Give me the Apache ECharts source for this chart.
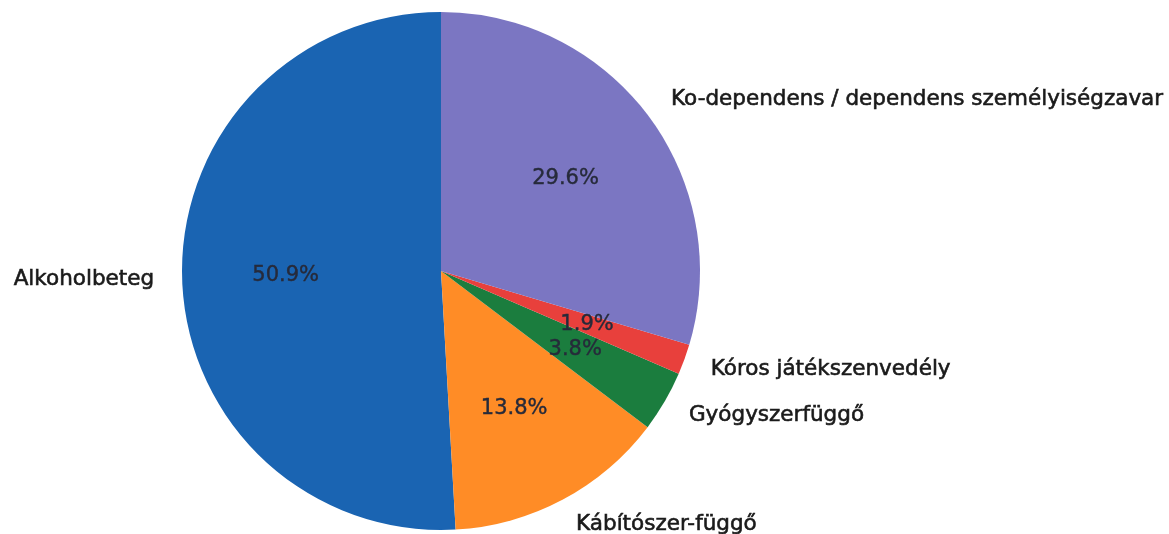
<!DOCTYPE html>
<html>
<head>
<meta charset="utf-8">
<script src="https://cdn.jsdelivr.net/npm/echarts@6/dist/echarts.min.js"></script>
<style>
  html, body { margin: 0; padding: 0; background: #fff; }
  #chart { width: 1169px; height: 534px; }
</style>
</head>
<body>
<div id="chart"></div>
<script>
  // order as drawn: counter-clockwise from the top
  const categories = ['Alkoholbeteg', 'Kábítószer-függő', 'Gyógyszerfüggő', 'Kóros játékszenvedély', 'Ko-dependens / dependens személyiségzavar'];
  const shares = [50.9, 13.8, 3.8, 1.9, 29.6];
  const colors = ['#1a64b2', '#ff8c26', '#1b7d3e', '#e8403c', '#7b76c2'];

  const R = 259;
  const CENTER = [441, 271];

  const pieData = categories.map((name, i) => ({
    name: name,
    value: shares[i],
    itemStyle: { color: colors[i] }
  }));

  let option = {
    animation: false,
    series: [
      {
        type: 'pie',
        center: CENTER,
        radius: [0, R],
        startAngle: 90,
        clockwise: false,
        avoidLabelOverlap: false,
        silent: true,
        data: pieData,
        label: {
          show: true,
          position: 'outside',
          fontFamily: 'DejaVu Sans',
          fontSize: 21.5,
          color: '#1a1a1a',
          textBorderColor: '#1a1a1a',
          textBorderWidth: 0.6,
          distanceToLabelLine: 0,
          formatter: '{b}'
        },
        labelLine: { show: false, length: 28, length2: 0 },
        emphasis: { disabled: true }
      },
      {
        // transparent copy only used to place the percentages at 0.6 R
        type: 'pie',
        center: CENTER,
        radius: [0, R * 1.2 - 6],
        startAngle: 90,
        clockwise: false,
        avoidLabelOverlap: false,
        silent: true,
        z: 3,
        data: categories.map((name, i) => ({ name: name, value: shares[i] })),
        itemStyle: { color: 'rgba(0,0,0,0)' },
        label: {
          show: true,
          position: 'inside',
          fontFamily: 'DejaVu Sans',
          fontSize: 21,
          color: '#262a3a',
          textBorderColor: '#262a3a',
          textBorderWidth: 0.4,
          formatter: p => p.value.toFixed(1) + '%'
        },
        labelLine: { show: false },
        emphasis: { disabled: true }
      }
    ]
  };

  let myChart = echarts.init(document.getElementById('chart'));
  myChart.setOption(option);
</script>
</body>
</html>
